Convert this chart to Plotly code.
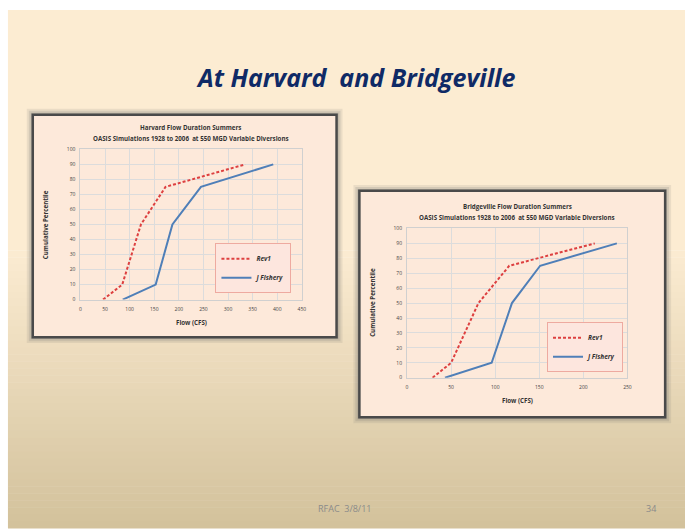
import plotly.graph_objects as go

W, H = 689, 532

# ---------------- data ----------------
pct = [0, 10, 50, 75, 90]
harvard_rev1 = [46, 85, 123, 173, 335]
harvard_jfish = [86, 153, 187, 245, 392]
bridge_rev1 = [29, 50, 81, 116, 213]
bridge_jfish = [43, 96, 119, 151, 238]

harvard_xticks = [0, 50, 100, 150, 200, 250, 300, 350, 400, 450]
bridge_xticks = [0, 50, 100, 150, 200, 250]
yticks = [0, 10, 20, 30, 40, 50, 60, 70, 80, 90, 100]

RED = "#dd4040"
BLUE = "#4f7fb8"
DASH = "3px,2px"


def px(x):
    return x / W


def py(y):
    return 1 - y / H


fig = go.Figure()

# ---------------- traces ----------------
fig.add_trace(go.Scatter(x=harvard_rev1, y=pct, mode="lines", name="<b><i>Rev1</i></b>",
                         line=dict(color=RED, width=2, dash=DASH),
                         xaxis="x", yaxis="y", legend="legend"))
fig.add_trace(go.Scatter(x=harvard_jfish, y=pct, mode="lines", name="<b><i>J Fishery</i></b>",
                         line=dict(color=BLUE, width=2),
                         xaxis="x", yaxis="y", legend="legend"))
fig.add_trace(go.Scatter(x=bridge_rev1, y=pct, mode="lines", name="<b><i>Rev1</i></b>",
                         line=dict(color=RED, width=2, dash=DASH),
                         xaxis="x2", yaxis="y2", legend="legend2"))
fig.add_trace(go.Scatter(x=bridge_jfish, y=pct, mode="lines", name="<b><i>J Fishery</i></b>",
                         line=dict(color=BLUE, width=2),
                         xaxis="x2", yaxis="y2", legend="legend2"))

# ---------------- background shapes ----------------
shapes = []
top_c = (252, 236, 210)
bot_c = (210, 193, 155)
g0, g1 = 250, 531
shapes.append(dict(type="rect", xref="paper", yref="paper", x0=px(7), x1=px(689),
                   y0=py(g0), y1=py(7), fillcolor="rgb(%d,%d,%d)" % top_c,
                   line=dict(width=0), layer="below"))
n = 40
for i in range(n):
    t = (i + 0.5) / n
    c = tuple(int(round(top_c[k] + (bot_c[k] - top_c[k]) * t)) for k in range(3))
    y0 = g0 + (g1 - g0) * i / n
    y1 = g0 + (g1 - g0) * (i + 1) / n
    shapes.append(dict(type="rect", xref="paper", yref="paper", x0=px(7), x1=px(689),
                       y0=py(y1 + 0.5), y1=py(y0), fillcolor="rgb(%d,%d,%d)" % c,
                       line=dict(width=0), layer="below"))


def frame(x0, y0, x1, y1):
    for d, a in [(6, 0.12), (4, 0.18), (2, 0.25)]:
        shapes.append(dict(type="rect", xref="paper", yref="paper",
                           x0=px(x0 - d), x1=px(x1 + d), y0=py(y1 + d), y1=py(y0 - d),
                           fillcolor="rgba(110,110,110,%.2f)" % a, line=dict(width=0),
                           layer="below"))
    shapes.append(dict(type="rect", xref="paper", yref="paper",
                       x0=px(x0), x1=px(x1), y0=py(y1), y1=py(y0),
                       fillcolor="#fde9da", line=dict(color="#4a4a4a", width=2.5),
                       layer="below"))


frame(32, 113, 338, 338)
frame(361, 190, 669, 419)

# ---------------- axes ----------------
tickfont = dict(family="Open Sans", size=5, color="#444")
common_x = dict(showgrid=True, gridcolor="#dcdcdc", gridwidth=1, zeroline=False,
                showline=True, linecolor="#d0d0d0", mirror=True, ticks="",
                tickfont=tickfont, fixedrange=True, ticklabelstandoff=4)
common_y = dict(showgrid=True, gridcolor="#dcdcdc", gridwidth=1, zeroline=False,
                showline=True, linecolor="#d0d0d0", mirror=True, ticks="",
                tickfont=tickfont, tickvals=yticks, range=[0, 100], fixedrange=True,
                ticklabelstandoff=3)

fig.update_layout(
    xaxis=dict(domain=[px(80), px(303)], anchor="y", range=[0, 450],
               tickvals=harvard_xticks, **common_x),
    yaxis=dict(domain=[py(300), py(148)], anchor="x", **common_y),
    xaxis2=dict(domain=[px(409), px(631)], anchor="y2", range=[0, 250],
                tickvals=bridge_xticks, **common_x),
    yaxis2=dict(domain=[py(379), py(228)], anchor="x2", **common_y),
)

# ---------------- text ----------------
ann = []


def text(x, y, s, size, bold=True, italic=False, color="#333", angle=0,
         family="Open Sans", xanchor="center"):
    if bold:
        s = "<b>" + s + "</b>"
    if italic:
        s = "<i>" + s + "</i>"
    ann.append(dict(x=px(x), y=py(y), xref="paper", yref="paper", text=s,
                    showarrow=False, xanchor=xanchor, yanchor="middle",
                    textangle=angle, font=dict(family=family, size=size, color=color)))


text(357, 75, "At Harvard  and Bridgeville", 25, bold=True, italic=True,
     color="#0f2a66", family="Open Sans")

text(191, 126, "Harvard Flow Duration Summers", 6.2)
text(191, 137, "OASIS Simulations 1928 to 2006  at 550 MGD Variable Diversions", 6.2)
text(192, 323, "Flow (CFS)", 6.2)
text(45, 224, "Cumulative Percentile", 6.2, angle=-90)

text(520, 206, "Bridgeville Flow Duration Summers", 6.2)
text(520, 217, "OASIS Simulations 1928 to 2006  at 550 MGD Variable Diversions", 6.2)
text(520, 402, "Flow (CFS)", 6.2)
text(374, 303, "Cumulative Percentile", 6.2, angle=-90)

text(346, 511, "RFAC  3/8/11", 9, bold=False, color="#8a8a8a")
text(655, 511, "34", 9, bold=False, color="#8a8a8a")

legfont = dict(family="Open Sans", size=6.5, color="#333")
fig.update_layout(
    width=W, height=H,
    margin=dict(l=0, r=0, t=0, b=0),
    paper_bgcolor="white",
    plot_bgcolor="white",
    showlegend=True,
    legend=dict(x=px(216), y=py(243), xanchor="left", yanchor="top",
                bgcolor="#fde6de", bordercolor="#eeaaa0", borderwidth=1,
                font=legfont, itemwidth=30, tracegroupgap=0),
    legend2=dict(x=px(550), y=py(323), xanchor="left", yanchor="top",
                 bgcolor="#fde6de", bordercolor="#eeaaa0", borderwidth=1,
                 font=legfont, itemwidth=30, tracegroupgap=0),
    shapes=shapes,
    annotations=ann,
)

fig.write_html("out.html")
